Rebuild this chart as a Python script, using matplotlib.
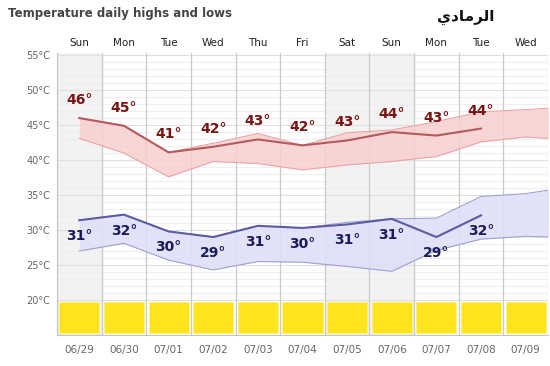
import matplotlib
matplotlib.use("Agg")
import matplotlib.pyplot as plt
from matplotlib.patches import Rectangle
import matplotlib.transforms as mtransforms

# données
days = ['Sun', 'Mon', 'Tue', 'Wed', 'Thu', 'Fri', 'Sat', 'Sun', 'Mon', 'Tue', 'Wed']
dates = ['06/29', '06/30', '07/01', '07/02', '07/03', '07/04', '07/05', '07/06', '07/07', '07/08', '07/09']
shaded = [0, 6, 7]

high_obs = [46.0, 44.9, 41.1, 41.9, 42.95, 42.1, 42.8, 44.0, 43.5, 44.5]
high_labels = [46, 45, 41, 42, 43, 42, 43, 44, 43, 44]
high_top = [46.0, 44.9, 41.1, 42.4, 43.8, 42.1, 43.9, 44.3, 45.5, 46.9, 47.2, 47.6]
high_bot = [43.1, 41.0, 37.6, 39.8, 39.5, 38.6, 39.3, 39.8, 40.5, 42.6, 43.3, 42.9]

low_obs = [31.4, 32.2, 29.8, 29.0, 30.6, 30.3, 30.8, 31.6, 29.0, 32.1]
low_labels = [31, 32, 30, 29, 31, 30, 31, 31, 29, 32]
low_top = [31.4, 32.2, 29.8, 29.0, 30.6, 30.3, 31.1, 31.6, 31.7, 34.8, 35.2, 36.2]
low_bot = [27.0, 28.1, 25.7, 24.3, 25.5, 25.4, 24.8, 24.1, 27.1, 28.7, 29.1, 28.9]

yticks = [20, 25, 30, 35, 40, 45, 50, 55]
city = "\uFEF1\uFEA9\uFE8E\uFEE3\uFEAE\uFEDF\uFE8D"  # الرمادي (formes de présentation)

fig = plt.figure(figsize=(5.5, 3.66), dpi=100)
ax = fig.add_axes([57 / 550, 1 - 335 / 366, 491 / 550, 282 / 366])
ax.set_xlim(-0.5, 10.5)
ax.set_ylim(15, 55.3)

# colonnes grisées
for i in shaded:
    ax.axvspan(i - 0.5, i + 0.5, color='#f3f3f3', zorder=0)

# grille horizontale
for t in range(15, 56):
    c = '#e0e0e0' if t % 5 == 0 else '#efefef'
    ax.axhline(t, color=c, lw=0.8, zorder=0.5)
# grille verticale
for i in range(12):
    ax.axvline(i - 0.5, color='#cacaca', lw=0.9, zorder=0.6)

# bandes min / max
xb = list(range(len(high_top)))
ax.fill_between(xb, high_bot, high_top, color='#f9cfcf', alpha=0.85, lw=0, zorder=1)
ax.plot(xb, high_top, color='#eaa4a4', lw=0.8, zorder=1.5)
ax.plot(xb, high_bot, color='#eaa4a4', lw=0.8, zorder=1.5)
ax.fill_between(xb, low_bot, low_top, color='#dfdff9', alpha=0.9, lw=0, zorder=1)
ax.plot(xb, low_top, color='#a0a0d4', lw=0.8, zorder=1.5)
ax.plot(xb, low_bot, color='#a0a0d4', lw=0.8, zorder=1.5)

# courbes observées
xo = list(range(len(high_obs)))
ax.plot(xo, high_obs, color='#b25a5f', lw=1.5, zorder=2)
ax.plot(xo, low_obs, color='#5c5ca4', lw=1.5, zorder=2)

for x, y, lab in zip(xo, high_obs, high_labels):
    ax.annotate(f'{lab}°', (x, y), xytext=(0, 13), textcoords='offset points',
                ha='center', va='center', fontsize=10, fontweight='bold',
                color='#7a1414', zorder=3)
for x, y, lab in zip(xo, low_obs, low_labels):
    ax.annotate(f'{lab}°', (x, y), xytext=(0, -11.5), textcoords='offset points',
                ha='center', va='center', fontsize=10, fontweight='bold',
                color='#1c1c5c', zorder=3)

# cases jaunes
for i in range(len(days)):
    ax.add_patch(Rectangle((i - 0.45, 15.3), 0.9, 4.4, facecolor='#fde41c',
                           edgecolor='#fff27a', lw=0.6, zorder=2))

ax.set_yticks(yticks)
ax.set_yticklabels([f'{t}°C' for t in yticks], fontsize=7, color='#666666')
ax.tick_params(axis='y', length=0, pad=5)
ax.set_xticks([])
for s in ['top', 'right']:
    ax.spines[s].set_visible(False)
ax.spines['left'].set_color('#c4c4c4')
ax.spines['bottom'].set_color('#c4c4c4')

trans = mtransforms.blended_transform_factory(ax.transData, fig.transFigure)
for i, (d, dt) in enumerate(zip(days, dates)):
    ax.text(i, 1 - 43 / 366, d, transform=trans, ha='center', va='center',
            fontsize=7.5, color='#222222')
    ax.text(i, 1 - 350 / 366, dt, transform=trans, ha='center', va='center',
            fontsize=7.5, color='#666666')

fig.text(8 / 550, 1 - 14 / 366, 'Temperature daily highs and lows', ha='left',
         va='center', fontsize=8.5, fontweight='bold', color='#444444')
fig.text(466 / 550, 1 - 17 / 366, city, ha='center', va='center',
         fontsize=11, fontweight='bold', color='#111111', family='DejaVu Sans')

fig.savefig('out.png', dpi=100)
